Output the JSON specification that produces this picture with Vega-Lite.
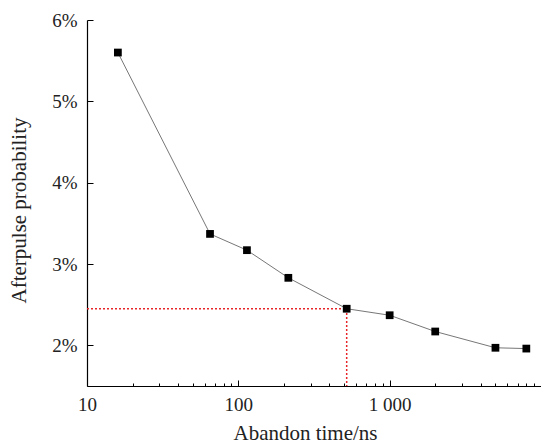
{
  "$schema": "https://vega.github.io/schema/vega-lite/v6.json",
  "autosize": "none",
  "width": 454,
  "height": 366,
  "padding": {"left": 87, "top": 20, "right": 0, "bottom": 61},
  "background": "white",
  "config": {
    "view": {"stroke": null},
    "font": "Liberation Serif",
    "axis": {
      "labelFont": "Liberation Serif",
      "titleFont": "Liberation Serif",
      "labelColor": "#222",
      "titleColor": "#222",
      "labelFontSize": 19,
      "titleFontSize": 21,
      "titleFontWeight": "normal",
      "domainColor": "black",
      "tickColor": "black",
      "domainWidth": 1.2,
      "tickWidth": 1,
      "grid": false
    }
  },
  "datasets": {
    "main": [
      {"ns": 16, "p": 0.0560},
      {"ns": 65, "p": 0.0337},
      {"ns": 114, "p": 0.0317},
      {"ns": 214, "p": 0.0283},
      {"ns": 520, "p": 0.0245},
      {"ns": 1000, "p": 0.0237},
      {"ns": 2000, "p": 0.0217},
      {"ns": 5000, "p": 0.0197},
      {"ns": 8000, "p": 0.0196}
    ],
    "ref": [
      {"ns": 10, "p": 0.0245, "k": 1},
      {"ns": 520, "p": 0.0245, "k": 2},
      {"ns": 520, "p": 0.015, "k": 3}
    ]
  },
  "layer": [
    {
      "data": {"name": "ref"},
      "mark": {"type": "line", "color": "#e8262a", "strokeWidth": 1.5, "strokeDash": [2, 2], "clip": true},
      "encoding": {
        "x": {"field": "ns", "type": "quantitative", "scale": {"type": "log", "domain": [10, 9000]},
          "axis": {
            "title": "Abandon time/ns",
            "titlePadding": 5,
            "titleX": 218,
            "titleAlign": "center",
            "values": [10,20,30,40,50,60,70,80,90,100,200,300,400,500,600,700,800,900,1000,2000,3000,4000,5000,6000,7000,8000,9000],
            "labelExpr": "datum.value == 10 ? '10' : datum.value == 100 ? '100' : datum.value == 1000 ? '1 000' : ''",
            "tickSize": {"condition": {"test": "datum.value == 10 || datum.value == 100 || datum.value == 1000", "value": -6}, "value": -3},
            "labelPadding": 15,
            "labelFlush": false,
            "labelOverlap": false
          }},
        "y": {"field": "p", "type": "quantitative", "scale": {"domain": [0.015, 0.06]},
          "axis": {
            "title": "Afterpulse probability",
            "values": [0.02, 0.03, 0.04, 0.05, 0.06],
            "format": ".0%",
            "tickSize": -6,
            "labelPadding": 16,
            "titlePadding": 22,
            "titleY": 190,
            "titleAlign": "center"
          }},
        "order": {"field": "k"}
      }
    },
    {
      "data": {"name": "main"},
      "mark": {"type": "line", "color": "#777", "strokeWidth": 1},
      "encoding": {
        "x": {"field": "ns", "type": "quantitative"},
        "y": {"field": "p", "type": "quantitative"}
      }
    },
    {
      "data": {"name": "main"},
      "mark": {"type": "square", "color": "black", "opacity": 1, "size": 60},
      "encoding": {
        "x": {"field": "ns", "type": "quantitative"},
        "y": {"field": "p", "type": "quantitative"}
      }
    }
  ]
}
